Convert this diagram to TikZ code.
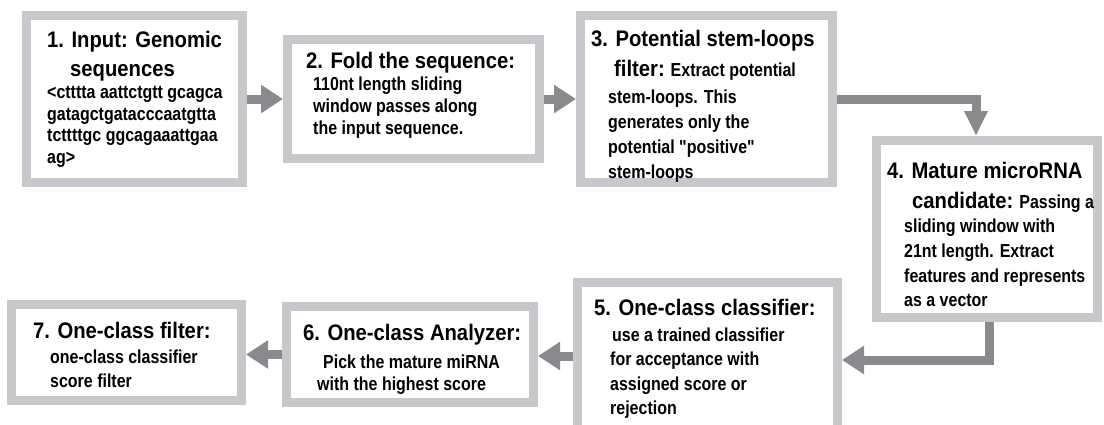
\documentclass[tikz,border=0pt]{standalone}
\usepackage{fontspec}
\newfontfamily\flowfont{Liberation Sans}[FakeStretch=0.9]
\newfontfamily\bodyfont{Liberation Sans}[FakeStretch=0.85]
\usetikzlibrary{arrows.meta}
\definecolor{boxgray}{RGB}{200,200,204}
\definecolor{arrowgray}{RGB}{138,138,142}
\newcommand{\ttl}[1]{{\flowfont\fontsize{22.5}{24}\selectfont #1}}
\newcommand{\bodyskip}[1]{\fontsize{18.8}{#1}\selectfont}
\tikzset{
	stage/.style={draw=boxgray, line width=9pt, fill=white, inner sep=0pt},
	txt/.style={anchor=north west, align=left, inner sep=0pt, font=\bodyfont\bfseries\bodyskip{#1}},
	flow/.style={draw=arrowgray, line width=9pt, -{Triangle[width=27pt,length=22pt]}}
}
\begin{document}
\begin{tikzpicture}[x=1pt,y=-1pt]
		
		\useasboundingbox (0,0) rectangle (1104,424);
		
		\node[stage, minimum width=216pt, minimum height=167pt] (b1) at (134.5,99) {};
		\node[stage, minimum width=252pt, minimum height=119pt] (b2) at (413.5,99) {};
		\node[stage, minimum width=252pt, minimum height=167pt] (b3) at (706.5,99) {};
		\node[stage, minimum width=221pt, minimum height=177pt] (b4) at (987,229) {};
		\node[stage, minimum width=260pt, minimum height=147pt] (b5) at (707.5,356) {};
		\node[stage, minimum width=247pt, minimum height=96pt] (b6) at (410,354.5) {};
		\node[stage, minimum width=230pt, minimum height=96pt] (b7) at (126.5,352.5) {};
		
		\node[txt=21.7] (t1) at (47,31) {\ttl{1. Input: Genomic}\\[7.3pt]
			\hspace*{23pt}\ttl{sequences}\\[0.3pt]
			<ctttta aattctgtt gcagca\\
			gatagctgatacccaatgtta\\
			tcttttgc ggcagaaattgaa\\
			ag>};
		\node[txt=22] (t2) at (306,51.6) {\ttl{2. Fold the sequence:}\\
			\hspace*{7pt}110nt length sliding\\
			\hspace*{7pt}window passes along\\
			\hspace*{7pt}the input sequence.};
		\node[txt=25] (t3) at (591,29.6) {\ttl{3. Potential stem-loops}\\[5pt]
			\hspace*{23pt}\ttl{filter:} Extract potential\\[2pt]
			\hspace*{17pt}stem-loops. This\\
			\hspace*{17pt}generates only the\\
			\hspace*{17pt}potential "positive"\\
			\hspace*{17pt}stem-loops};
		\node[txt=24.7] (t4) at (887,161.6) {\ttl{4. Mature microRNA}\\[5.3pt]
			\hspace*{25pt}\ttl{candidate:} Passing a\\
			\hspace*{17pt}sliding window with\\
			\hspace*{17pt}21nt length. Extract\\
			\hspace*{17pt}features and represents\\
			\hspace*{17pt}as a vector};
		\node[txt=24.5] (t5) at (594,298.6) {\ttl{5. One-class classifier:}\\[1.5pt]
			\hspace*{18pt}use a trained classifier\\
			\hspace*{16pt}for acceptance with\\
			\hspace*{16pt}assigned score or\\
			\hspace*{16pt}rejection};
		\node[txt=22] (t6) at (303,323.6) {\ttl{6. One-class Analyzer:}\\[6pt]
			\hspace*{20pt}Pick the mature miRNA\\
			\hspace*{14pt}with the highest score};
		\node[txt=24] (t7) at (33,321.6) {\ttl{7. One-class filter:}\\[1pt]
			\hspace*{17pt}one-class classifier\\
			\hspace*{17pt}score filter};
		
		\draw[flow] (b1.east) -- (b2.west);
		\draw[flow] (b2.east) -- (b3.west);
		\draw[flow, -{Triangle[width=22pt,length=25pt]}] (b3.east) -| ([xshift=-11pt]b4.north);
		\draw[flow] ([xshift=2pt]b4.south) |- ([yshift=-4pt]b5.east);
		\draw[flow] (b5.west) -- (b5.west -| b6.east);
		\draw[flow] (b6.west) -- (b6.west -| b7.east);
		
\end{tikzpicture}
\end{document}
